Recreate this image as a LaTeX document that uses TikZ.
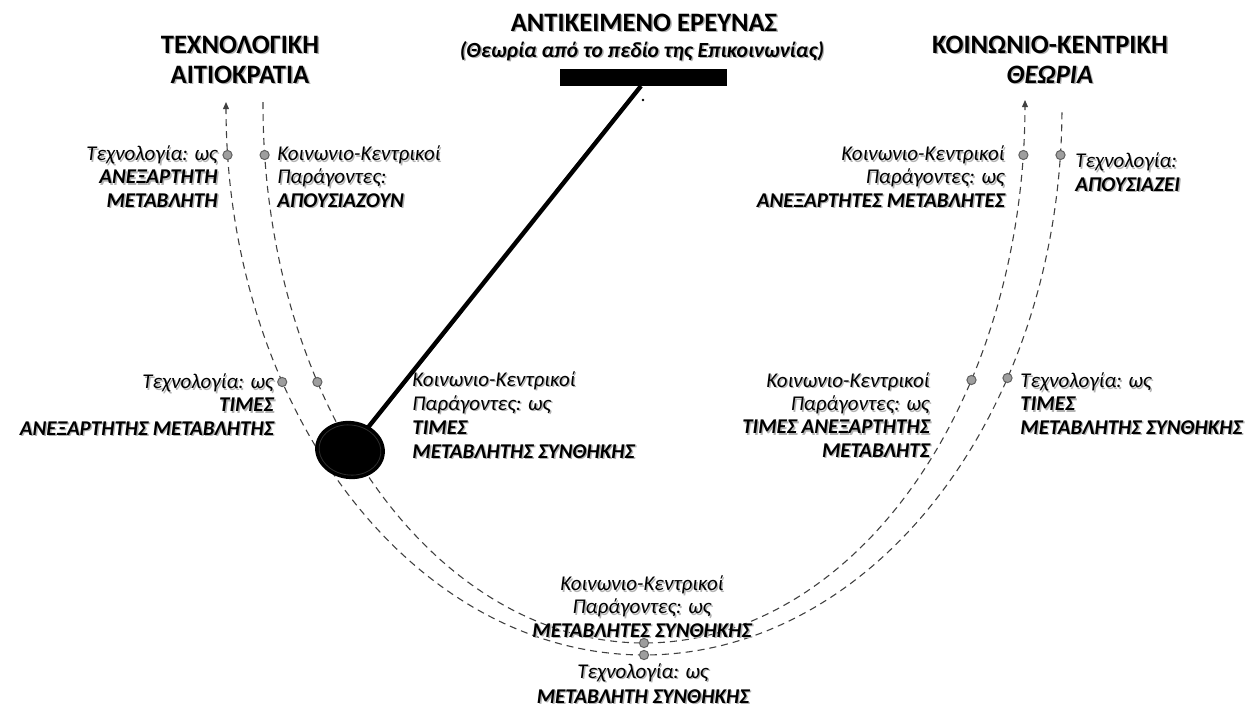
\documentclass[tikz,border=0pt]{standalone}
\usepackage{fontspec}
\setmainfont{Carlito}
\usetikzlibrary{shapes.geometric,arrows.meta}
\newcommand\shd[1]{\leavevmode\rlap{\kern0.7pt\raisebox{-0.7pt}{\textcolor{black!30}{#1}}}#1}
\newcommand\bw[1]{{\bfseries\itshape #1}}
\begin{document}
\begin{tikzpicture}[x=0.5pt,y=-0.5pt,
  lbl/.style={font=\fontsize{10.5}{11.6}\selectfont\itshape, inner sep=0pt},
  ttl/.style={font=\fontsize{13.3}{15}\selectfont\bfseries, inner sep=0pt, align=center},
  dotmark/.style={circle, fill=black!38, draw=black!62, line width=0.5pt, inner sep=0pt, minimum size=4.6pt},
  swing/.style={draw=black!75, line width=0.55pt, dash pattern=on 3.5pt off 2.5pt},
  tip/.style={-{Triangle[length=3.6pt,width=3pt]}},
]
\useasboundingbox (0,0) rectangle (1248,707);

% swing curves
\coordinate (oTL) at (226,102);
\coordinate (iTL) at (263,102);
\coordinate (iTR) at (1025,100);
\draw[swing, {Triangle[length=3.6pt,width=3pt]}-] (oTL) -- plot[domain=180:0, samples=140, smooth] ({644+418*cos(\x)},{108+547*sin(\x)});
\draw[swing] (iTL) -- plot[domain=180:0, samples=140, smooth] ({644+381*cos(\x)},{105+538*sin(\x)}) -- (iTR);
\draw[tip, draw=black!75, line width=0.55pt] (1025,105) -- (iTR);

% dots on the curves
\node[dotmark] (d1) at (227.5,155) {};
\node[dotmark] (d2) at (264.6,155) {};
\node[dotmark] (d3) at (282.2,382) {};
\node[dotmark] (d4) at (317.4,382) {};
\node[dotmark] (d5) at (1023.4,155) {};
\node[dotmark] (d6) at (1060.5,155) {};
\node[dotmark] (d7) at (971.5,380) {};
\node[dotmark] (d8) at (1007.5,378) {};
\node[dotmark] (d9) at (644,643) {};
\node[dotmark] (d10) at (644,655) {};

% pendulum
\node[fill=black, minimum width=83.5pt, minimum height=8.5pt, inner sep=0pt] (bar) at (643.5,77.5) {};
\coordinate (rodtop) at (641,86);
\coordinate (bobc) at (350,450);
\draw[line width=2.2pt] (rodtop) -- (bobc);
\node[circle, fill=black, inner sep=0pt, minimum size=1.3pt] (pin) at (643,100) {};
\node[ellipse, fill=black, minimum width=35pt, minimum height=29pt, inner sep=0pt, rotate=-8] (bob) at (bobc) {};
\node[ellipse, draw=black!82, line width=0.4pt, minimum width=31pt, minimum height=25pt, inner sep=0pt, rotate=-8] (bobring) at (bobc) {};

% titles
\node[ttl, anchor=base] (t1) at (240,83) {\shd{ΤΕΧΝΟΛΟΓΙΚΗ}\\ \shd{ΑΙΤΙΟΚΡΑΤΙΑ}};
\node[ttl, anchor=base] (t2) at (644,31) {\shd{ΑΝΤΙΚΕΙΜΕΝΟ ΕΡΕΥΝΑΣ}};
\node[inner sep=0pt, anchor=base, font=\fontsize{10.8}{13}\selectfont\bfseries\itshape] (t2b) at (642,57) {\shd{(Θεωρία από το πεδίο της Επικοινωνίας)}};
\node[ttl, anchor=base] (t3) at (1050,83) {\shd{ΚΟΙΝΩΝΙΟ-ΚΕΝΤΡΙΚΗ}\\ \shd{\bw{ΘΕΩΡΙΑ}}};

% labels
\node[lbl, anchor=base east, align=right] (lTA) at (218,207) {\shd{Τεχνολογία: ως}\\ \shd{\bw{ΑΝΕΞΑΡΤΗΤΗ}}\\ \shd{\bw{ΜΕΤΑΒΛΗΤΗ}}};
\node[lbl, anchor=base west, align=left] (lKA) at (277,207) {\shd{Κοινωνιο-Κεντρικοί}\\ \shd{Παράγοντες:}\\ \shd{\bw{ΑΠΟΥΣΙΑΖΟΥΝ}}};
\node[lbl, anchor=base east, align=right] (rKA) at (1005,207) {\shd{Κοινωνιο-Κεντρικοί}\\ \shd{Παράγοντες: ως}\\ \shd{\bw{ΑΝΕΞΑΡΤΗΤΕΣ ΜΕΤΑΒΛΗΤΕΣ}}};
\node[lbl, anchor=base west, align=left] (rTA) at (1075,191) {\shd{Τεχνολογία:}\\ \shd{\bw{ΑΠΟΥΣΙΑΖΕΙ}}};
\node[lbl, anchor=base east, align=right] (mlT) at (274,435) {\shd{Τεχνολογία: ως}\\ \shd{\bw{ΤΙΜΕΣ}}\\ \shd{\bw{ΑΝΕΞΑΡΤΗΤΗΣ ΜΕΤΑΒΛΗΤΗΣ}}};
\node[lbl, anchor=base west, align=left, font=\fontsize{10.5}{12}\selectfont\itshape] (mlK) at (412,458) {\shd{Κοινωνιο-Κεντρικοί}\\ \shd{Παράγοντες: ως}\\ \shd{\bw{ΤΙΜΕΣ}}\\ \shd{\bw{ΜΕΤΑΒΛΗΤΗΣ ΣΥΝΘΗΚΗΣ}}};
\node[lbl, anchor=base east, align=right] (mrK) at (930,457) {\shd{Κοινωνιο-Κεντρικοί}\\ \shd{Παράγοντες: ως}\\ \shd{\bw{ΤΙΜΕΣ ΑΝΕΞΑΡΤΗΤΗΣ}}\\ \shd{\bw{ΜΕΤΑΒΛΗΤΣ}}};
\node[lbl, anchor=base west, align=left] (mrT) at (1020,434) {\shd{Τεχνολογία: ως}\\ \shd{\bw{ΤΙΜΕΣ}}\\ \shd{\bw{ΜΕΤΑΒΛΗΤΗΣ ΣΥΝΘΗΚΗΣ}}};
\node[lbl, anchor=base, align=center] (bK) at (642,637) {\shd{Κοινωνιο-Κεντρικοί}\\ \shd{Παράγοντες: ως}\\ \shd{\bw{ΜΕΤΑΒΛΗΤΕΣ ΣΥΝΘΗΚΗΣ}}};
\node[lbl, anchor=base, align=center, font=\fontsize{10.5}{12.5}\selectfont\itshape] (bT) at (643,703) {\shd{Τεχνολογία: ως}\\ \shd{\bw{ΜΕΤΑΒΛΗΤΗ ΣΥΝΘΗΚΗΣ}}};
\end{tikzpicture}
\end{document}
